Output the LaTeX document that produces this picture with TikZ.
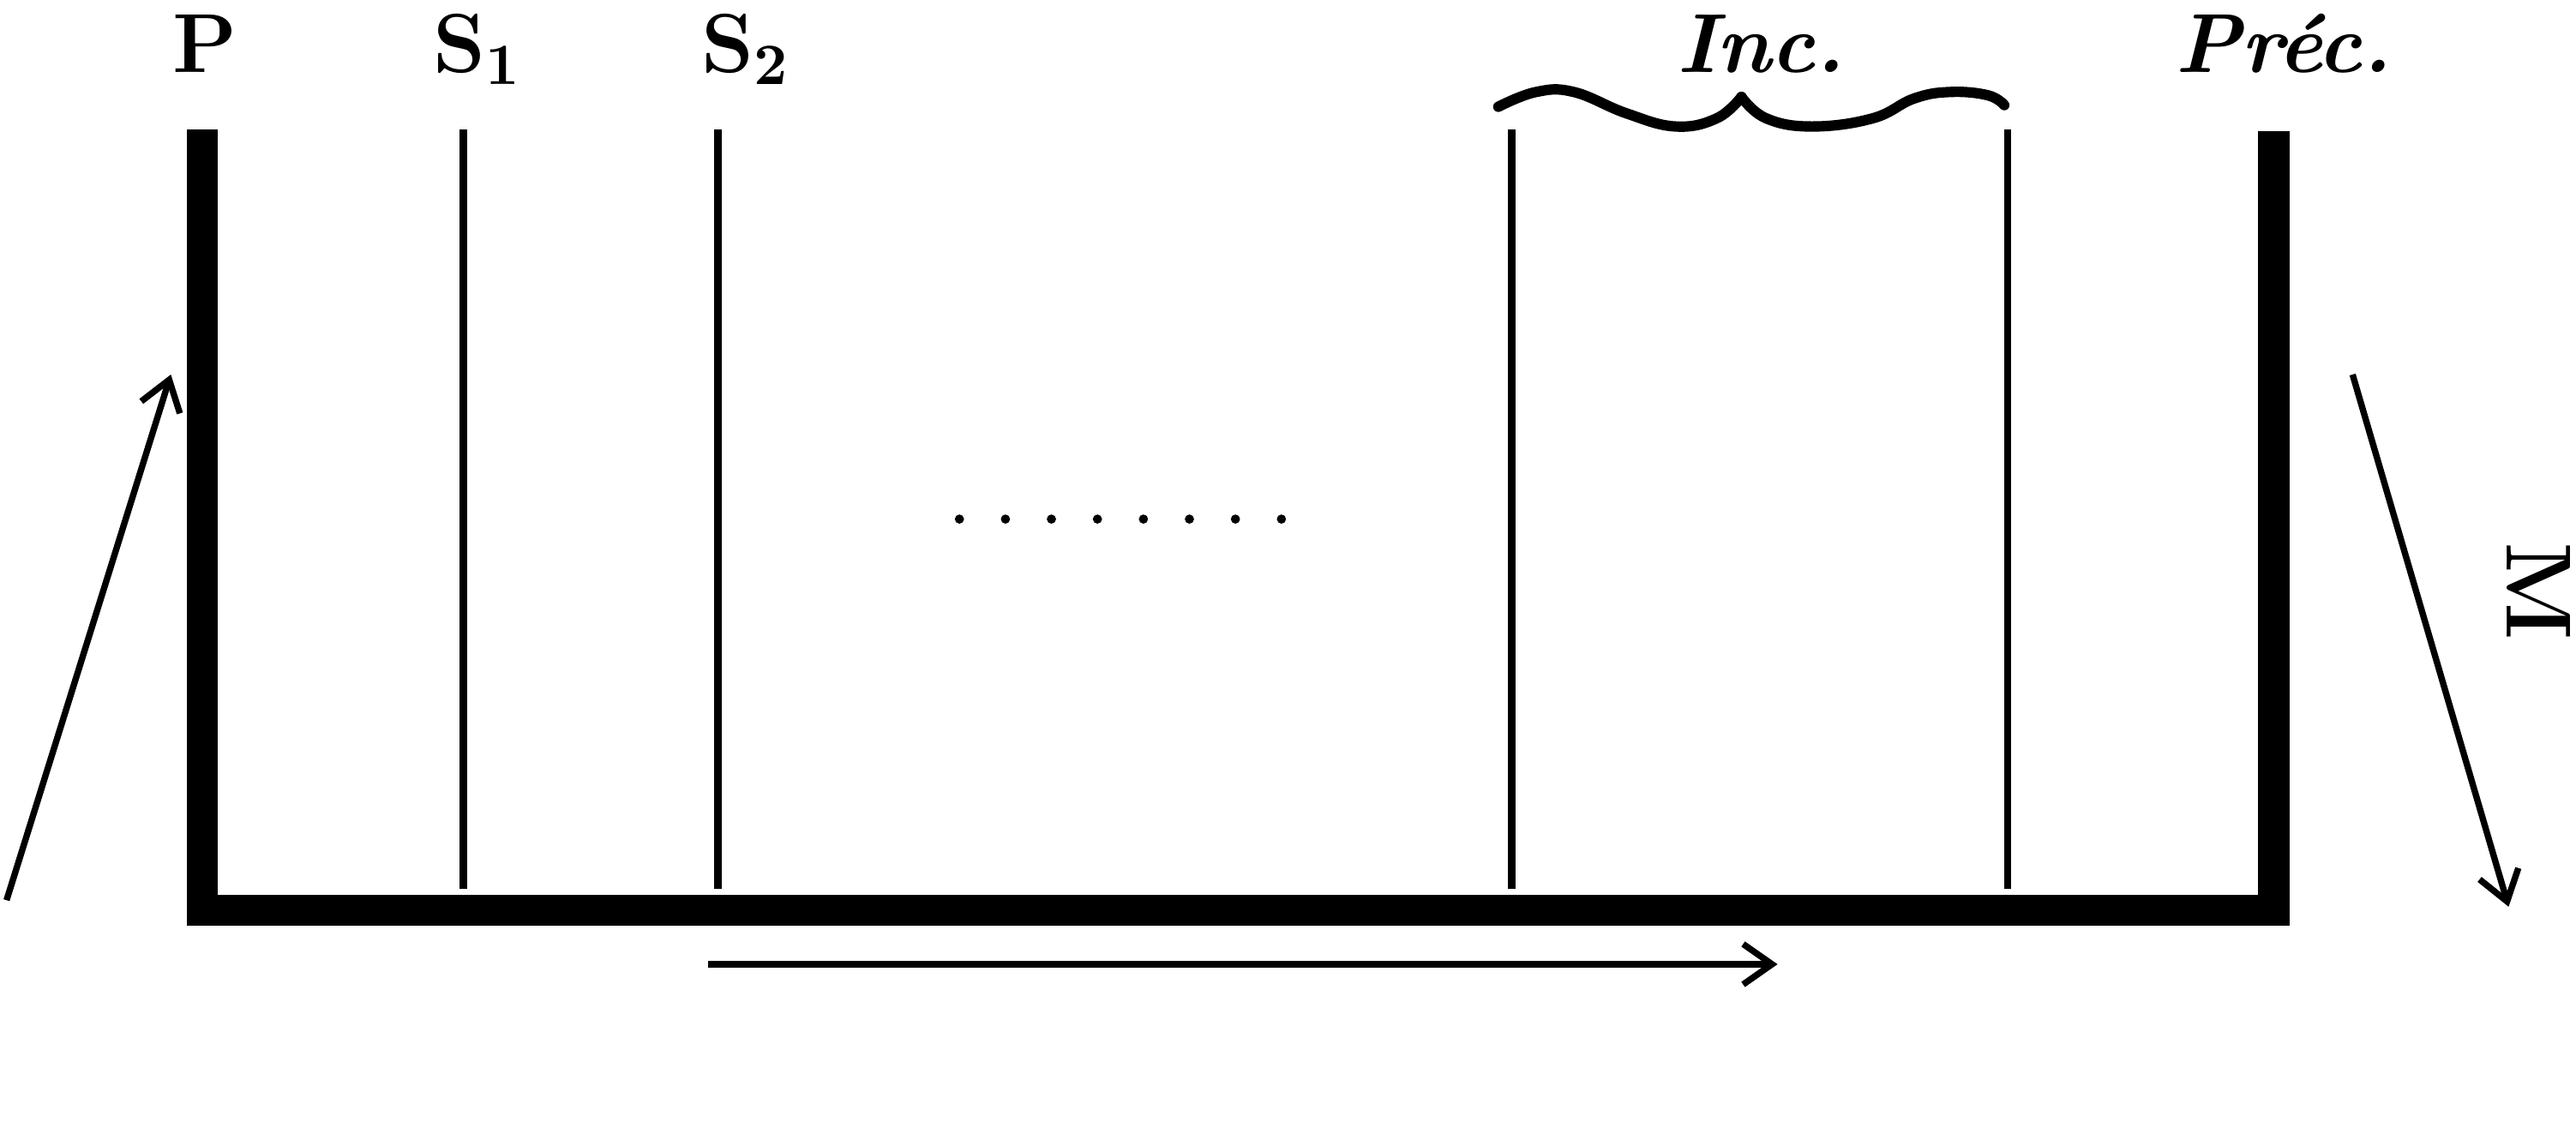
\documentclass[tikz,border=0pt]{standalone}
\usepackage{fontspec}
\usetikzlibrary{arrows.meta}

\begin{document}
\begin{tikzpicture}[x=0.01cm, y=-0.01cm,
    lbl/.style={anchor=base, inner sep=0pt, font=\fontsize{14.5}{17}\selectfont\bfseries},
    ilbl/.style={anchor=base, inner sep=0pt, font=\fontsize{14.5}{17}\selectfont\bfseries\itshape},
    wall/.style={line width=5.4pt, line join=miter},
    sheet/.style={line width=1.3pt},
    flow/.style={line width=1.1pt, -{Straight Barb[length=5pt,width=7pt]}}]
      \useasboundingbox (0,0) rectangle (1568,693.5);

      % labels
      \node[lbl] (P) at (125,44) {P};
      \node[lbl] (S1) at (291,44) {S\textsubscript{1}};
      \node[lbl] (S2) at (454,44) {S\textsubscript{2}};
      \node[ilbl] (inc) at (1072,44) {Inc.};
      \node[ilbl] (prec) at (1390,44) {Préc.};
      \node[lbl, rotate=-90, font=\fontsize{16}{19}\selectfont\bfseries] (M) at (1526,360) {M};

      % end walls and floor
      \coordinate (Ptop) at (123,79);
      \coordinate (Pbot) at (123,554);
      \coordinate (Rbot) at (1384,554);
      \coordinate (Rtop) at (1384,80);
      \draw[wall] (Ptop) -- (Pbot) -- (Rbot) -- (Rtop);

      % thin systems
      \foreach \x/\n in {282/s1, 437/s2, 920/incl, 1222/incr} {
        \coordinate (\n top) at (\x,79);
        \coordinate (\n bot) at (\x,541);
        \draw[sheet] (\n top) -- (\n bot);
      }

      % dots
      \foreach \i in {0,...,7}
        \fill (584+28*\i,316) circle (2.8);

      % brace over Inc.
      \draw[line width=1.8pt, line cap=round] plot[smooth, tension=0.7] coordinates {(912,65) (935,56) (958,56) (990,69) (1020,77) (1045,72) (1060,59)};
      \draw[line width=1.8pt, line cap=round] plot[smooth, tension=0.7] coordinates {(1060,59) (1075,72) (1103,77) (1140,72) (1165,60) (1187,56) (1210,58) (1220,64)};

      % arrows
      \coordinate (inA) at (4,548);
      \coordinate (inB) at (104,228);
      \coordinate (outA) at (1432,228);
      \coordinate (outB) at (1527,552);
      \coordinate (dirA) at (431,587);
      \coordinate (dirB) at (1082,587);
      \draw[flow] (inA) -- (inB);
      \draw[flow] (outA) -- (outB);
      \draw[flow] (dirA) -- (dirB);
    \end{tikzpicture}
\end{document}
